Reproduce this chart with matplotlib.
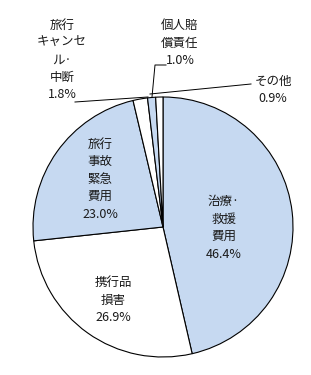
import matplotlib
matplotlib.use("Agg")
import matplotlib.pyplot as plt

plt.rcParams['font.family'] = ['Noto Sans CJK JP', 'DejaVu Sans']

categories = ["治療·\n救援\n費用", "携行品\n損害", "旅行\n事故\n緊急\n費用",
              "旅行\nキャンセ\nル·\n中断", "個人賠\n償責任", "その他"]
values = [46.4, 26.9, 23.0, 1.8, 1.0, 0.9]
colors = ["#C6D9F1", "#FFFFFF", "#C6D9F1", "#FFFFFF", "#C6D9F1", "#FFFFFF"]

W, H = 311, 375
fig = plt.figure(figsize=(W / 100, H / 100), dpi=100)
cx, cy, r = 163, 227, 130
ax = fig.add_axes([(cx - r) / W, (H - cy - r) / H, 2 * r / W, 2 * r / H])
ax.pie(values, colors=colors, startangle=90, counterclock=False,
       wedgeprops=dict(edgecolor="black", linewidth=0.8))
ax.set_xlim(-1, 1)
ax.set_ylim(-1, 1)
ax.set_aspect('auto')
ax.axis('off')

def d(px, py):
    return ((px - cx) / r, (cy - py) / r)

label_pos = [(224, 228), (113, 300), (100, 179), (62, 60), (180, 43), (273, 90)]
tc = "#1a1a1a"
for cat, v, (px, py) in zip(categories, values, label_pos):
    x, y = d(px, py)
    ax.text(x, y, f"{cat}\n{v:.1f}%", ha="center", va="center", fontsize=9,
            color=tc, linespacing=1.45, clip_on=False)

# leader lines
lc = "black"
p = [d(75, 102), d(148, 97)]
ax.plot([p[0][0], p[1][0]], [p[0][1], p[1][1]], color=lc, lw=0.7, clip_on=False)
p = [d(166, 65), d(155, 65), d(152, 97)]
ax.plot([q[0] for q in p], [q[1] for q in p], color=lc, lw=0.7, clip_on=False)
p = [d(251, 84), d(150, 94)]
ax.plot([q[0] for q in p], [q[1] for q in p], color=lc, lw=0.7, clip_on=False)

fig.savefig("out.png", dpi=100)
